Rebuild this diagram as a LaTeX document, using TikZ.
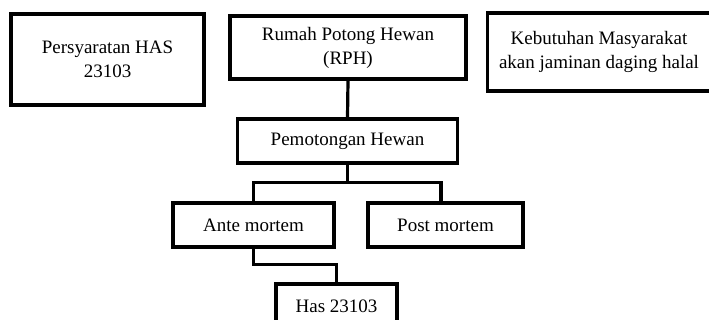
\documentclass[tikz,border=0pt]{standalone}
\usepackage{fontspec}
\setmainfont{Liberation Serif}

\begin{document}
\begin{tikzpicture}[x=1pt,y=-1pt,line width=3.2pt,box/.style={draw,rectangle,align=center,inner sep=0pt,font=\fontsize{19}{24}\selectfont}]
            \useasboundingbox (0,0) rectangle (709,320);

            \node[box,minimum width=193,minimum height=91] (syarat) at (107.5,59.5) {Persyaratan HAS\\23103};
            \node[box,minimum width=236,minimum height=63] (rph) at (348,47.5) {Rumah Potong Hewan\\(RPH)};
            \node[box,minimum width=223,minimum height=78] (kebutuhan) at (599,52) {Kebutuhan Masyarakat\\akan jaminan daging halal};

            \node[box,minimum width=220,minimum height=44] (pemotongan) at (347.5,141) {Pemotongan Hewan};
            \node[box,minimum width=161,minimum height=44] (ante) at (253.5,225) {Ante mortem};
            \node[box,minimum width=155,minimum height=44] (post) at (445.5,225) {Post mortem};
            \node[box,minimum width=121,minimum height=44] (has) at (336.5,306) {Has 23103};

            \coordinate (split) at ([yshift=-18]pemotongan.south);

            \draw (rph.south) -- (pemotongan.north);
            \draw (pemotongan.south) -- (split);
            \draw (split) -| (ante.north);
            \draw (split) -| ([xshift=-4.5]post.north);
            \draw (ante.south) -- ++(0,16) -| (has.north);
        \end{tikzpicture}
\end{document}
